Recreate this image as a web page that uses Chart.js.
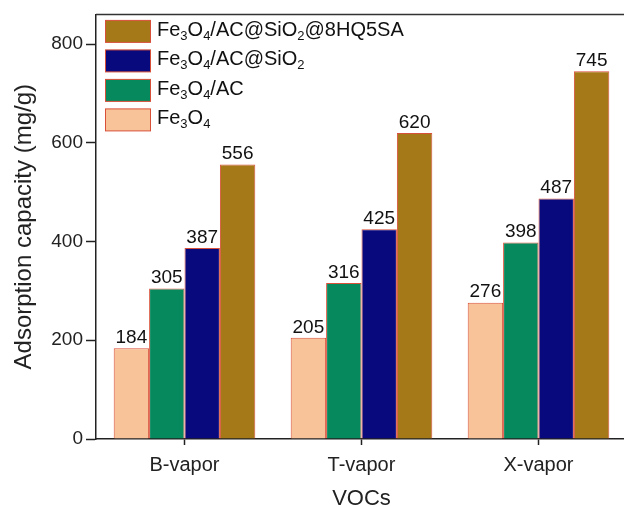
<!DOCTYPE html>
<html lang="en">
<head>
  <meta charset="UTF-8">
  <title>Adsorption capacity of VOCs</title>
  <style>
    html, body { margin: 0; padding: 0; background: #fff; overflow: hidden; }
    .chart-box { position: absolute; left: 0; top: 0; width: 632px; height: 514px; }
  </style>
</head>
<body>
  <div class="chart-box">
    <canvas id="vocChart" width="632" height="514"></canvas>
  </div>

  <script src="https://cdn.jsdelivr.net/npm/chart.js"></script>
  <script>
    // data
    const categories = ['B-vapor', 'T-vapor', 'X-vapor'];
    const seriesNames = ['Fe_3O_4', 'Fe_3O_4/AC', 'Fe_3O_4/AC@SiO_2', 'Fe_3O_4/AC@SiO_2@8HQ5SA'];
    const fe3o4 = [184, 205, 276];
    const fe3o4AC = [305, 316, 398];
    const fe3o4ACSiO2 = [387, 425, 487];
    const fe3o4ACSiO2HQ = [556, 620, 745];
    const yTicks = [0, 200, 400, 600, 800];

    const fills = ['#f9c39a', '#07895e', '#09097e', '#a57818'];
    const edge = '#d9503a';
    const FONT = "'Liberation Sans', Arial, sans-serif";

    const plainLabel = (s) => s.replace(/_/g, '');

    // draws text where "_x" means subscript x
    function drawRich(ctx, text, x, y, size) {
      let cx = x;
      const parts = text.split(/(_\d)/);
      parts.forEach(p => {
        if (!p) return;
        if (p[0] === '_') {
          ctx.font = Math.round(size * 0.66) + 'px ' + FONT;
          ctx.fillText(p.slice(1), cx, y + size * 0.28);
          cx += ctx.measureText(p.slice(1)).width;
        } else {
          ctx.font = size + 'px ' + FONT;
          ctx.fillText(p, cx, y);
          cx += ctx.measureText(p).width;
        }
      });
    }

    // value labels above bars, top frame line, legend with subscripts
    const extras = {
      id: 'extras',
      afterDatasetsDraw(chart) {
        const ctx = chart.ctx;
        ctx.save();
        ctx.fillStyle = '#111';
        ctx.font = '19px ' + FONT;
        ctx.textAlign = 'center';
        ctx.textBaseline = 'bottom';
        chart.data.datasets.forEach((ds, i) => {
          chart.getDatasetMeta(i).data.forEach((bar, j) => {
            ctx.fillText(String(ds.data[j]), bar.x, bar.y - 1);
          });
        });
        ctx.restore();
      },
      afterDraw(chart) {
        const ctx = chart.ctx;
        const area = chart.chartArea;
        ctx.save();
        ctx.strokeStyle = '#333';
        ctx.lineWidth = 1.5;
        ctx.beginPath();
        ctx.moveTo(area.left, area.top);
        ctx.lineTo(area.right, area.top);
        ctx.stroke();

        // legend, last series on top
        const n = chart.data.datasets.length;
        ctx.textAlign = 'left';
        ctx.textBaseline = 'middle';
        for (let k = 0; k < n; k++) {
          const i = n - 1 - k;
          const y0 = area.top + 6 + k * 29.5;
          ctx.fillStyle = fills[i];
          ctx.fillRect(area.left + 9.5, y0, 45, 22);
          ctx.strokeStyle = edge;
          ctx.lineWidth = 1;
          ctx.strokeRect(area.left + 9.5, y0, 45, 22);
          ctx.fillStyle = '#111';
          drawRich(ctx, seriesNames[i], area.left + 61, y0 + 10, 20);
        }
        ctx.restore();
      }
    };

    const seriesData = [fe3o4, fe3o4AC, fe3o4ACSiO2, fe3o4ACSiO2HQ];

    new Chart(document.getElementById('vocChart'), {
      type: 'bar',
      data: {
        labels: categories,
        datasets: seriesData.map((d, i) => ({
          label: plainLabel(seriesNames[i]),
          data: d,
          backgroundColor: fills[i],
          borderColor: edge,
          borderWidth: 1,
          categoryPercentage: 0.8,
          barPercentage: 1.0
        }))
      },
      options: {
        responsive: false,
        animation: false,
        layout: { padding: { top: 12, right: 5, left: 0, bottom: 0 } },
        plugins: {
          legend: { display: false },
          tooltip: { enabled: false }
        },
        scales: {
          x: {
            afterFit: (s) => { s.height = 75; },
            grid: { display: true, drawOnChartArea: false, offset: false, tickLength: 6, tickColor: '#222', tickWidth: 1.5 },
            border: { display: true, color: '#222', width: 1.5 },
            ticks: { color: '#222', font: { family: FONT, size: 20 }, padding: 8 },
            title: { display: true, text: 'VOCs', color: '#222', font: { family: FONT, size: 22 }, padding: { top: 4, bottom: 2 } }
          },
          y: {
            min: 0,
            max: 860,
            afterFit: (s) => { s.width = 96; },
            afterBuildTicks: (s) => { s.ticks = yTicks.map(v => ({ value: v })); },
            grid: { display: true, drawOnChartArea: false, tickLength: 10, tickColor: '#222', tickWidth: 1.5 },
            border: { display: true, color: '#222', width: 1.5 },
            ticks: { color: '#222', font: { family: FONT, size: 19 }, padding: 3 },
            title: { display: true, text: 'Adsorption capacity (mg/g)', color: '#222', font: { family: FONT, size: 24 }, padding: { top: 10, bottom: 0 } }
          }
        }
      },
      plugins: [extras]
    });
  </script>
</body>
</html>
